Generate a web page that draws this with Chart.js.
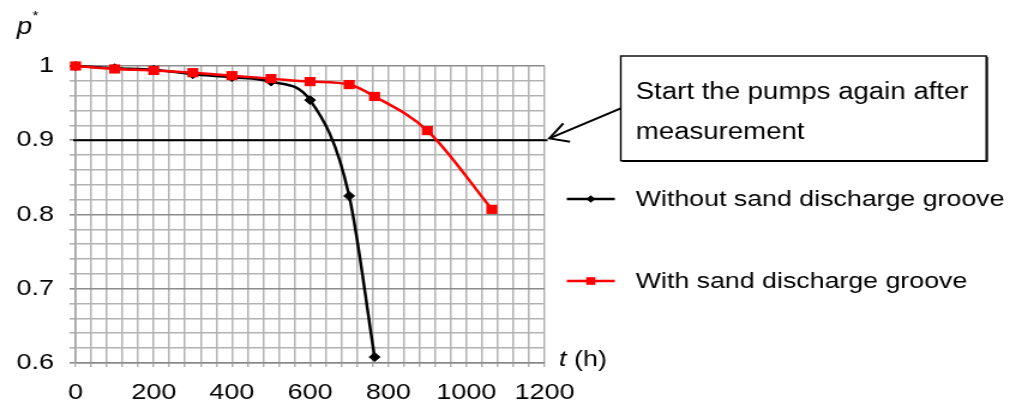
<!DOCTYPE html>
<html><head><meta charset="utf-8">
<script src="https://cdn.jsdelivr.net/npm/chart.js@4/dist/chart.umd.min.js"></script>
<style>
html,body{margin:0;padding:0;background:#fff;overflow:hidden}
#wrap{width:1016px;height:410px;overflow:hidden;background:#fff}
#c{transform:scale(1.19953,1);transform-origin:0 0}
</style></head><body>
<div id="wrap"><canvas id="c" width="847" height="410"></canvas></div>
<script>
// ---- data ----
const tWithout = [0, 100, 200, 300, 400, 500, 600, 700, 765];
const pWithout = [1.0, 0.997, 0.995, 0.989, 0.985, 0.979, 0.954, 0.825, 0.608];
const tWith = [0, 100, 200, 300, 400, 500, 600, 700, 765, 900, 1065];
const pWith = [1.0, 0.996, 0.994, 0.991, 0.987, 0.983, 0.979, 0.975, 0.959, 0.913, 0.807];
const seriesLabels = ['Without sand discharge groove', 'With sand discharge groove'];
const xLabelTicks = [0, 200, 400, 600, 800, 1000, 1200];
const yLabelTicks = [0.6, 0.7, 0.8, 0.9, 1];
const restartLevel = 0.9;
const noteLines = ['Start the pumps again after', 'measurement'];
const yTitle = ['p', '*'];
const xTitle = ['t', ' (h)'];

const FONT = '"Liberation Sans", Arial, sans-serif';
const near = (a, b) => Math.abs(a - b) < 1e-6;
const isMajorY = v => yLabelTicks.some(t => near(t, v));

const overlay = {
  id: 'overlay',
  beforeDatasetsDraw(chart) {
    const {ctx, chartArea: a, scales: {y}} = chart;
    const py = y.getPixelForValue(restartLevel);
    ctx.save();
    ctx.strokeStyle = '#000'; ctx.lineWidth = 2;
    ctx.beginPath(); ctx.moveTo(a.left - 2, py); ctx.lineTo(a.right + 2.5, py); ctx.stroke();
    ctx.restore();
  },
  afterDraw(chart) {
    const {ctx, chartArea: a, scales: {y}} = chart;
    ctx.save();
    // axis titles
    ctx.fillStyle = '#000';
    ctx.textBaseline = 'alphabetic'; ctx.textAlign = 'left';
    ctx.font = 'italic 23px ' + FONT;
    ctx.fillText(yTitle[0], 14, 34);
    ctx.font = '13px ' + FONT;
    ctx.fillText(yTitle[1], 27, 20);
    ctx.font = 'italic 22.5px ' + FONT;
    ctx.fillText(xTitle[0], 466, 366);
    const tw = ctx.measureText(xTitle[0]).width;
    ctx.font = '22.5px ' + FONT;
    ctx.fillText(xTitle[1], 466 + tw, 366);

    // legend
    const legY = [199, 281];
    chart.data.datasets.forEach((ds, i) => {
      const ly = legY[i];
      ctx.strokeStyle = ds.borderColor; ctx.fillStyle = ds.borderColor; ctx.lineWidth = 2.5;
      ctx.beginPath(); ctx.moveTo(472.5, ly); ctx.lineTo(512.5, ly); ctx.stroke();
      if (ds.pointStyle === 'rect') {
        ctx.fillRect(492.5 - 3.8, ly - 3.8, 7.6, 7.6);
      } else {
        ctx.beginPath();
        ctx.moveTo(492.5, ly - 3.8); ctx.lineTo(496.3, ly); ctx.lineTo(492.5, ly + 3.8); ctx.lineTo(488.7, ly);
        ctx.closePath(); ctx.fill();
      }
      ctx.fillStyle = '#000';
      ctx.font = '22.3px ' + FONT;
      ctx.textBaseline = 'middle';
      ctx.fillText(ds.label, 530, ly + 1);
    });

    // annotation box
    ctx.strokeStyle = '#000'; ctx.lineWidth = 1.4;
    ctx.strokeRect(517.5, 56, 304.7, 104.7);
    ctx.lineWidth = 1;
    ctx.beginPath(); ctx.moveTo(823.2, 57); ctx.lineTo(823.2, 161.5); ctx.lineTo(518.5, 161.5); ctx.stroke();
    ctx.fillStyle = '#000';
    ctx.font = '23px ' + FONT;
    ctx.textBaseline = 'alphabetic';
    ctx.fillText(noteLines[0], 530, 99);
    ctx.fillText(noteLines[1], 530, 139);

    // arrow from box to the restart line
    const py = y.getPixelForValue(restartLevel);
    const tipX = a.right + 4, tipY = py - 1.8;
    ctx.lineWidth = 2;
    ctx.beginPath(); ctx.moveTo(517.5, 108.3); ctx.lineTo(tipX, tipY); ctx.stroke();
    ctx.beginPath();
    ctx.moveTo(tipX + 11.6, tipY - 15); ctx.lineTo(tipX, tipY); ctx.lineTo(tipX + 17.2, tipY + 3.4);
    ctx.stroke();
    ctx.restore();
  }
};

new Chart(document.getElementById('c'), {
  type: 'line',
  data: {
    datasets: [
      {
        label: seriesLabels[0],
        data: tWithout.map((t, i) => ({x: t, y: pWithout[i]})),
        borderColor: '#000000', backgroundColor: '#000000',
        borderWidth: 2.5, pointStyle: 'rectRot', pointRadius: 4.5, pointBorderWidth: 1,
        cubicInterpolationMode: 'monotone', order: 2, clip: false
      },
      {
        label: seriesLabels[1],
        data: tWith.map((t, i) => ({x: t, y: pWith[i]})),
        borderColor: '#ff0000', backgroundColor: '#ff0000',
        borderWidth: 2.5, pointStyle: 'rect', pointRadius: 6.5, pointBorderWidth: 0,
        cubicInterpolationMode: 'monotone', order: 1, clip: false
      }
    ]
  },
  options: {
    responsive: false,
    devicePixelRatio: 1,
    animation: false,
    layout: {padding: {top: 66, right: 393, left: 0, bottom: 0}},
    plugins: {legend: {display: false}, tooltip: {enabled: false}},
    scales: {
      x: {
        type: 'linear', min: 0, max: 1200,
        afterFit: s => { s.height = 47; },
        grid: {color: '#b3b3b3', lineWidth: 1.5, tickLength: 4, drawTicks: true},
        border: {color: '#8a8a8a', width: 1.6},
        ticks: {
          stepSize: 40, autoSkip: false, maxRotation: 0, minRotation: 0, padding: 12,
          color: '#000', font: {family: FONT, size: 22.5},
          callback: v => xLabelTicks.some(t => near(t, v)) ? String(v) : ''
        }
      },
      y: {
        type: 'linear', min: 0.6, max: 1,
        afterFit: s => { s.width = 63; },
        grid: {
          color: c => isMajorY(c.tick.value) ? '#8c8c8c' : '#b3b3b3',
          lineWidth: 1.6, tickLength: 5, drawTicks: true
        },
        border: {color: '#a0a0a0', width: 1.6},
        ticks: {
          stepSize: 0.02, autoSkip: false, padding: 13,
          color: '#000', font: {family: FONT, size: 22.5},
          callback: v => isMajorY(v) ? String(Math.round(v * 10) / 10) : ''
        }
      }
    }
  },
  plugins: [overlay]
});
</script>
</body></html>
